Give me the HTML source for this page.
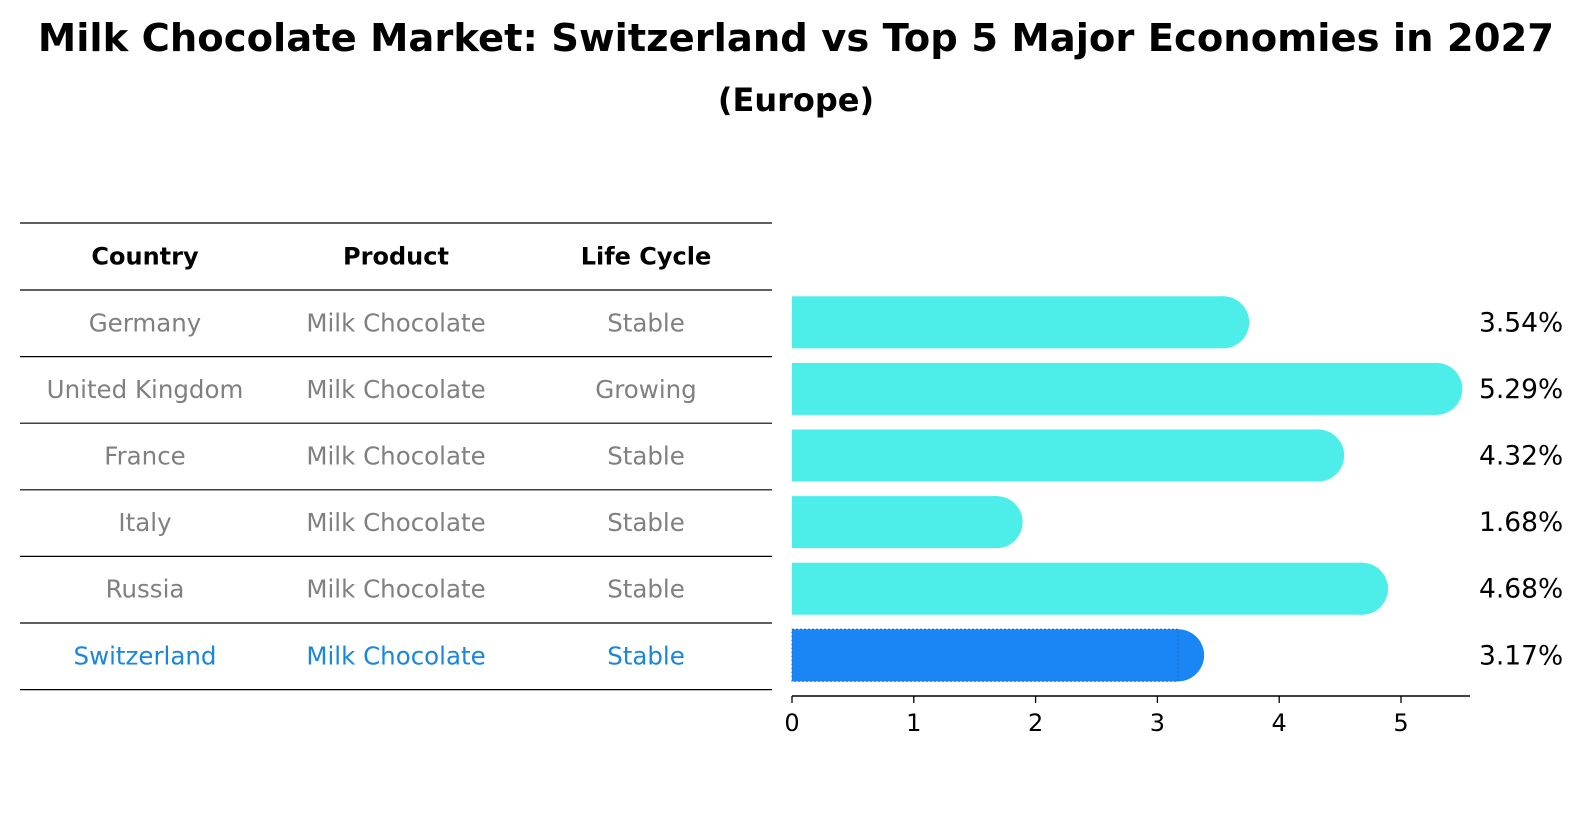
<!DOCTYPE html>
<html><head><meta charset="utf-8"><style>
body{margin:0;background:#fff;}
svg text{font-family:"DejaVu Sans","Liberation Sans",sans-serif;}
</style></head><body>
<svg width="1592" height="823" viewBox="0 0 1592 823">
<text x="796" y="51" text-anchor="middle" font-size="38.5" font-weight="bold">Milk Chocolate Market: Switzerland vs Top 5 Major Economies in 2027</text>
<text x="796" y="111" text-anchor="middle" font-size="32" font-weight="bold">(Europe)</text>
<g id="table"></g>
<g id="bars"></g>
<g id="axis"></g>
</svg>
<script>
const countries=["Germany","United Kingdom","France","Italy","Russia","Switzerland"];
const products=["Milk Chocolate","Milk Chocolate","Milk Chocolate","Milk Chocolate","Milk Chocolate","Milk Chocolate"];
const lifecycles=["Stable","Growing","Stable","Stable","Stable","Stable"];
const values=[3.54,5.29,4.32,1.68,4.68,3.17];
const ticks=[0,1,2,3,4,5];
const NS="http://www.w3.org/2000/svg";
function mk(tag,attrs,parent){const e=document.createElementNS(NS,tag);for(const k in attrs)e.setAttribute(k,attrs[k]);parent.appendChild(e);return e;}
const x0=792,ux=121.8;
function xs(v){return x0+v*ux;}
const rowTop=290,rowH=66.6;
function ys(i){return rowTop+rowH*i+rowH/2;}
const tbl=document.getElementById('table');
const colX=[145,396,646];
const lineYs=[223];for(let i=0;i<=countries.length;i++)lineYs.push(rowTop+rowH*i);
lineYs.forEach((y,i)=>{const l=mk('line',{x1:20,x2:772,y1:y,y2:y,stroke:'#000','stroke-width':1.2},tbl);

});
["Country","Product","Life Cycle"].forEach((h,j)=>{const t=mk('text',{x:colX[j],y:(223+rowTop)/2+8,'text-anchor':'middle','font-size':24,'font-weight':'bold'},tbl);t.textContent=h;

});
countries.forEach((c,i)=>{const col=i===countries.length-1?'#1a86dc':'#808080';
[c,products[i],lifecycles[i]].forEach((s,j)=>{const t=mk('text',{x:colX[j],y:ys(i)+8,'text-anchor':'middle','font-size':24.5,fill:col},tbl);t.textContent=s;

});});
const bars=document.getElementById('bars');
const bh=52,r=26;
values.forEach((v,i)=>{const col=i===values.length-1?'#1a86f5':'#4deeea';const cy=ys(i)-1;
const g=mk('g',{},bars);


mk('rect',{x:x0,y:cy-bh/2,width:xs(v)-x0,height:bh,fill:col},g);
mk('circle',{cx:xs(v),cy:cy,r:r,fill:col},g);
if(i===values.length-1){mk('rect',{x:x0,y:cy-bh/2,width:xs(v)-x0,height:bh,fill:'none',stroke:'#1565c0','stroke-width':1,'stroke-dasharray':'2,2'},g);}
const t=mk('text',{x:1479,y:cy+9,'font-size':26.5},bars);t.textContent=v.toFixed(2)+'%';

});
const ax=document.getElementById('axis');
mk('line',{x1:x0,x2:1470,y1:696,y2:696,stroke:'#000','stroke-width':1.5},ax);
ticks.forEach(tk=>{mk('line',{x1:xs(tk),x2:xs(tk),y1:696,y2:703,stroke:'#000','stroke-width':1.3},ax);
const t=mk('text',{x:xs(tk),y:731,'text-anchor':'middle','font-size':24},ax);t.textContent=tk;

});
</script>
</body></html>
